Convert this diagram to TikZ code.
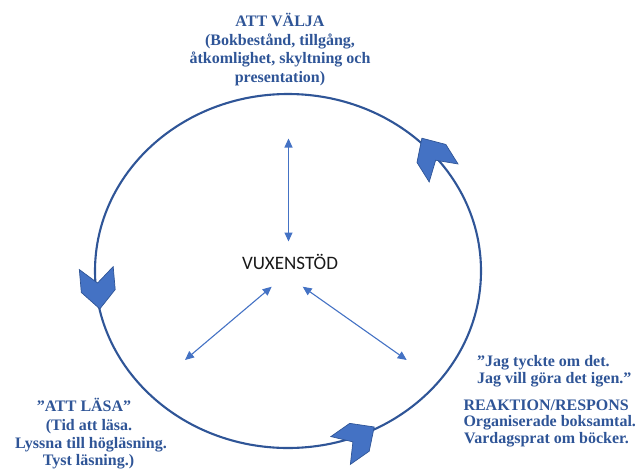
\documentclass[tikz,border=0pt]{standalone}
\usepackage{fontspec}
\setmainfont{Liberation Serif}
\newfontfamily\calib{Carlito}
\usetikzlibrary{arrows.meta}
\definecolor{ringblue}{HTML}{2F5597}
\definecolor{fillblue}{HTML}{4472C4}
\definecolor{textblue}{HTML}{2F5597}
\begin{document}
\begin{tikzpicture}[x=1pt,y=-1pt,
  ring/.style={draw=ringblue,line width=2.1pt},
  chevshape/.style={fill=fillblue,draw=ringblue,line width=0.7pt,line join=miter},
  chevron/.pic={\path[chevshape] (-20,17) -- (3,17) -- (21,0) -- (3,-17) -- (-20,-17) -- (-5,0) -- cycle;},
  link/.style={draw=fillblue,line width=1.1pt,{Triangle[length=9pt,width=8pt]}-{Triangle[length=9pt,width=8pt]}},
  caption/.style={text=textblue,font=\fontsize{16}{18}\selectfont\bfseries,inner sep=0pt,anchor=base},
  captionl/.style={caption,anchor=base west},
  hub/.style={font=\calib\fontsize{19}{22}\selectfont,text=black!90,inner sep=0pt}]
\useasboundingbox (0,0) rectangle (640,469);

% the cycle
\draw[ring] (288,271) ellipse [x radius=193, y radius=177];
\pic[rotate=-85] at (98,288) {chevron};
\pic[rotate=35] at (357,439) {chevron};
\pic[rotate=122] at (433,156) {chevron};

% centre
\node[hub] (hub) at (290,262) {VUXENSTÖD};

% arrows from the centre
\coordinate (vt) at (288.5,138.5);
\coordinate (vb) at (288.5,241.5);
\coordinate (lt) at (271.7,286.7);
\coordinate (lb) at (185,360);
\coordinate (rt) at (302.7,286.7);
\coordinate (rb) at (406.7,360);
\draw[link] (vt) -- (vb);
\draw[link] (lt) -- (lb);
\draw[link] (rt) -- (rb);

% choosing
\node[caption] (t1) at (280,26.5) {ATT VÄLJA};
\node[caption] (t2) at (280,45) {(Bokbestånd, tillgång,};
\node[caption] (t3) at (280,63.5) {åtkomlighet, skyltning och};
\node[caption] (t4) at (280,82) {presentation)};

% reading
\node[caption] (l1) at (84,411.7) {”ATT LÄSA”};
\node[caption] (l2) at (89,430.5) {(Tid att läsa.};
\node[caption] (l3) at (91,448.3) {Lyssna till högläsning.};
\node[caption] (l4) at (88.5,465.5) {Tyst läsning.)};

% response
\node[captionl] (r1) at (477,366.7) {”Jag tyckte om det.};
\node[captionl] (r2) at (477,383.3) {Jag vill göra det igen.”};
\node[captionl] (r3) at (463.3,410.7) {REAKTION/RESPONS};
\node[captionl] (r4) at (463.3,426.5) {Organiserade boksamtal.};
\node[captionl] (r5) at (464,443.3) {Vardagsprat om böcker.};
\end{tikzpicture}
\end{document}
